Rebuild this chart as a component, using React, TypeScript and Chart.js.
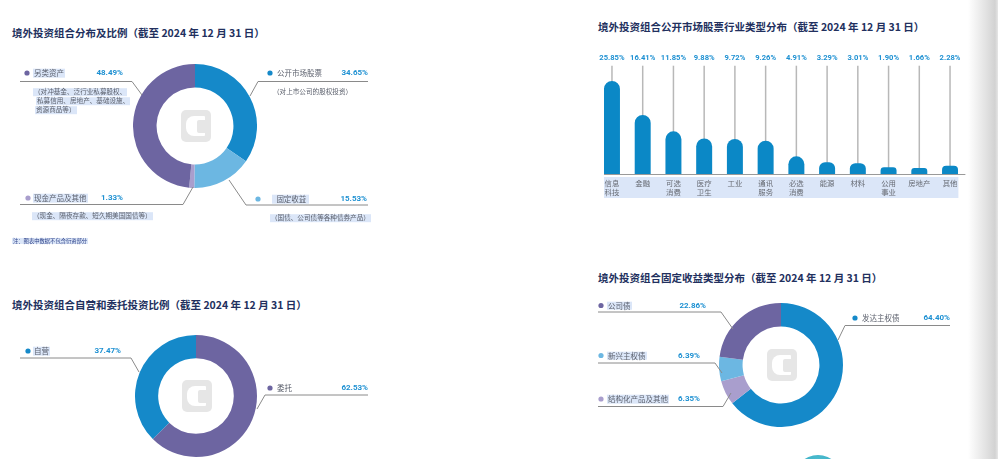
import React, { useEffect, useRef } from "react";
import Chart from "chart.js/auto";

const BLUE = "#1589c9";
const LIGHT_BLUE = "#6cb7e2";
const PURPLE = "#6d65a1";
const LIGHT_PURPLE = "#a99ecd";
const BAR = "#0b88c6";
const PCT = "#1d90d2";
const TITLE = "#22305e";
const LABEL = "#5a5f6b";
const LINE = "#8a8a8a";
const HL = "#dbe6f8";
const CJK = '"Noto Sans CJK SC", sans-serif';

// Panel 1: 境外投资组合分布及比例
const allocLabels = ["公开市场股票", "固定收益", "现金产品及其他", "另类资产"];
const allocValues = [34.65, 15.53, 1.33, 48.49];
const allocColors = [BLUE, LIGHT_BLUE, LIGHT_PURPLE, PURPLE];

// Panel 2: 公开市场股票行业类型分布
const sectorLabels = [["信息", "科技"], ["金融"], ["可选", "消费"], ["医疗", "卫生"], ["工业"], ["通讯", "服务"], ["必选", "消费"], ["能源"], ["材料"], ["公用", "事业"], ["房地产"], ["其他"]];
const sectorValues = [25.85, 16.41, 11.85, 9.88, 9.72, 9.26, 4.91, 3.29, 3.01, 1.9, 1.66, 2.28];

// Panel 3: 自营和委托投资比例
const modeLabels = ["委托", "自营"];
const modeValues = [62.53, 37.47];
const modeColors = [PURPLE, BLUE];

// Panel 4: 固定收益类型分布
const fixedLabels = ["发达主权债", "结构化产品及其他", "新兴主权债", "公司债"];
const fixedValues = [64.4, 6.35, 6.39, 22.86];
const fixedColors = [BLUE, LIGHT_PURPLE, LIGHT_BLUE, PURPLE];

const pct = (v: number) => v.toFixed(2) + "%";

const logoPlugin = {
  id: "logo",
  afterDraw(chart: any) {
    const { ctx, chartArea } = chart;
    const cx = (chartArea.left + chartArea.right) / 2 + 1;
    const cy = (chartArea.top + chartArea.bottom) / 2;
    ctx.save();
    ctx.fillStyle = "#e6e6e6";
    ctx.beginPath();
    ctx.roundRect(cx - 15, cy - 16, 30, 32, 5);
    ctx.fill();
    ctx.fillStyle = "#ffffff";
    ctx.beginPath();
    ctx.roundRect(cx - 10, cy - 10, 19, 20, [8, 1, 1, 8]);
    ctx.fill();
    ctx.fillStyle = "#e6e6e6";
    ctx.beginPath();
    ctx.roundRect(cx + 1, cy - 6, 9, 13, [2, 0, 0, 2]);
    ctx.fill();
    ctx.restore();
  },
};

function Donut({ labels, values, colors, left, top, size }: any) {
  const ref = useRef<HTMLCanvasElement | null>(null);
  useEffect(() => {
    const chart = new Chart(ref.current as HTMLCanvasElement, {
      type: "doughnut",
      data: { labels, datasets: [{ data: values, backgroundColor: colors, borderWidth: 0, hoverOffset: 0 }] },
      options: {
        responsive: false,
        animation: false,
        cutout: "62%",
        events: [],
        layout: { padding: 0 },
        plugins: { legend: { display: false }, tooltip: { enabled: false } },
      },
      plugins: [logoPlugin],
    } as any);
    return () => chart.destroy();
  }, []);
  return <canvas ref={ref} width={size} height={size} style={{ position: "absolute", left, top, width: size, height: size }} />;
}

const barDecor = {
  id: "barDecor",
  beforeDatasetsDraw(chart: any) {
    const { ctx, chartArea } = chart;
    const meta = chart.getDatasetMeta(0);
    const base = chart.scales.y.getPixelForValue(0);
    const first = meta.data[0];
    ctx.save();
    ctx.fillStyle = HL;
    ctx.fillRect(first.x - first.width / 2, base + 3, chartArea.right - 7 - (first.x - first.width / 2), 21);
    ctx.strokeStyle = "#b8b8b8";
    ctx.lineWidth = 1.5;
    meta.data.forEach((b: any) => {
      ctx.beginPath();
      ctx.moveTo(b.x, chartArea.top);
      ctx.lineTo(b.x, b.y + 2);
      ctx.stroke();
    });
    ctx.restore();
  },
  afterDraw(chart: any) {
    const { ctx, chartArea } = chart;
    const meta = chart.getDatasetMeta(0);
    const base = chart.scales.y.getPixelForValue(0);
    const first = meta.data[0];
    ctx.save();
    ctx.strokeStyle = "#9a9a9a";
    ctx.lineWidth = 1;
    ctx.beginPath();
    ctx.moveTo(first.x - first.width / 2, base + 0.5);
    ctx.lineTo(chartArea.right, base + 0.5);
    ctx.stroke();
    ctx.textAlign = "center";
    ctx.textBaseline = "middle";
    ctx.fillStyle = PCT;
    ctx.font = "bold 7.6px Roboto";
    meta.data.forEach((b: any, i: number) => {
      ctx.fillText(pct(sectorValues[i]), b.x, chartArea.top - 8);
    });
    ctx.fillStyle = "#666a72";
    ctx.font = "7.4px " + CJK;
    meta.data.forEach((b: any, i: number) => {
      sectorLabels[i].forEach((s: string, j: number) => {
        ctx.fillText(s, b.x, base + 9 + j * 9);
      });
    });
    ctx.restore();
  },
};

function SectorBars() {
  const ref = useRef<HTMLCanvasElement | null>(null);
  useEffect(() => {
    const chart = new Chart(ref.current as HTMLCanvasElement, {
      type: "bar",
      data: {
        labels: sectorLabels.map((l) => l.join("")),
        datasets: [
          {
            data: sectorValues,
            backgroundColor: BAR,
            borderWidth: 0,
            borderRadius: { topLeft: 8, topRight: 8, bottomLeft: 0, bottomRight: 0 },
            borderSkipped: false,
            barPercentage: 0.52,
            categoryPercentage: 1,
          },
        ],
      },
      options: {
        responsive: false,
        animation: false,
        events: [],
        layout: { padding: { left: 16.6, right: 14.6, top: 25.7, bottom: 36 } },
        scales: {
          x: { display: false },
          y: { display: false, min: 0, max: 30.1 },
        },
        plugins: { legend: { display: false }, tooltip: { enabled: false } },
      },
      plugins: [barDecor],
    } as any);
    return () => chart.destroy();
  }, []);
  return <canvas ref={ref} width={400} height={170} style={{ position: "absolute", left: 580, top: 40, width: 400, height: 170 }} />;
}

function Txt({ x, y, children, size = 7.5, color = LABEL, weight = 400, bg, right, family = CJK }: any) {
  return (
    <div
      style={{
        position: "absolute",
        left: x,
        top: y,
        transform: right ? "translate(-100%, -50%)" : "translate(0, -50%)",
        fontSize: size,
        lineHeight: 1.15,
        color,
        fontWeight: weight,
        fontFamily: family,
        whiteSpace: "nowrap",
        background: bg || "transparent",
        padding: bg ? "0 1px" : 0,
      }}
    >
      {children}
    </div>
  );
}

const Pct = ({ x, y, v }: any) => (
  <Txt x={x} y={y} right size={8} weight={700} color={PCT} family="Roboto, sans-serif">
    {pct(v)}
  </Txt>
);

const leaders = [
  "20,81.5 132,81.5 142,95",
  "368,81.5 258,81.5 250,96",
  "20,204.5 183,204.5 193,187",
  "368,205 246,205 229,180",
  "20,358 131,358 139,372",
  "368,395 265,395 257,409",
  "598,312 721,312 733,329",
  "598,363 715,363 722,373",
  "598,406.5 723,406.5 731,393",
  "950,325.5 845,325.5 838,340",
];

const dots: [number, number, string][] = [
  [27, 73, allocColors[3]],
  [270, 73, allocColors[0]],
  [28, 198, allocColors[2]],
  [258, 199, allocColors[1]],
  [28, 351, modeColors[1]],
  [270, 388, modeColors[0]],
  [601, 305.5, fixedColors[3]],
  [601, 355.5, fixedColors[2]],
  [601, 399, fixedColors[1]],
  [855, 318, fixedColors[0]],
];

export default function App() {
  const title = (x: number, y: number, s: string) => (
    <Txt x={x} y={y} size={10.5} weight={700} color={TITLE}>
      {s}
    </Txt>
  );
  const date = "（截至 2024 年 12 月 31 日）";
  return (
    <div style={{ position: "absolute", left: 0, top: 0, width: 998, height: 459, background: "#fff", overflow: "hidden" }}>
      {title(12, 33, "境外投资组合分布及比例" + date)}
      {title(598, 27, "境外投资组合公开市场股票行业类型分布" + date)}
      {title(12, 305, "境外投资组合自营和委托投资比例" + date)}
      {title(598, 278, "境外投资组合固定收益类型分布" + date)}

      <Donut labels={allocLabels} values={allocValues} colors={allocColors} left={133} top={64} size={124} />
      <SectorBars />
      <Donut labels={modeLabels} values={modeValues} colors={modeColors} left={135} top={335} size={122} />
      <Donut labels={fixedLabels} values={fixedValues} colors={fixedColors} left={718.5} top={303} size={124} />

      <svg width={998} height={459} style={{ position: "absolute", left: 0, top: 0 }}>
        {leaders.map((p, i) => (
          <polyline key={i} points={p} fill="none" stroke={LINE} strokeWidth={1} />
        ))}
        {dots.map(([x, y, c], i) => (
          <circle key={i} cx={x} cy={y} r={2.6} fill={c} />
        ))}
      </svg>

      {/* Panel 1 labels */}
      <Txt x={33} y={73} bg={HL}>{allocLabels[3]}</Txt>
      <Pct x={123} y={73} v={allocValues[3]} />
      <Txt x={33} y={92} size={6.6} bg={HL}>（对冲基金、泛行业私募股权、</Txt>
      <Txt x={36} y={101} size={6.6} bg={HL}>私募信用、房地产、基础设施、</Txt>
      <Txt x={35} y={110} size={6.6} bg={HL}>资源商品等）</Txt>
      <Txt x={277} y={73}>{allocLabels[0]}</Txt>
      <Pct x={368} y={73} v={allocValues[0]} />
      <Txt x={273} y={92} size={6.6}>（对上市公司的股权投资）</Txt>
      <Txt x={33} y={198} bg={HL}>{allocLabels[2]}</Txt>
      <Pct x={123} y={198} v={allocValues[2]} />
      <Txt x={32} y={216} size={6.6} bg={HL}>（现金、隔夜存款、短久期美国国债等）</Txt>
      <Txt x={272} y={199} bg={HL}>&nbsp;&nbsp;{allocLabels[1]}&nbsp;</Txt>
      <Pct x={367} y={199} v={allocValues[1]} />
      <Txt x={270} y={218} size={6.6} bg={HL}>（国债、公司债等各种债券产品）</Txt>
      <Txt x={12} y={241} size={5.3} color="#2b3f86" bg={HL}>注：图表中数据不包含衍资部分</Txt>

      {/* Panel 3 labels */}
      <Txt x={33} y={351} bg={HL}>{modeLabels[1]}</Txt>
      <Pct x={121} y={351} v={modeValues[1]} />
      <Txt x={277} y={388}>{modeLabels[0]}</Txt>
      <Pct x={368} y={388} v={modeValues[0]} />

      {/* Panel 4 labels */}
      <Txt x={607} y={305.5} bg={HL}>{fixedLabels[3]}</Txt>
      <Pct x={706} y={305.5} v={fixedValues[3]} />
      <Txt x={607} y={355.5} bg={HL}>{fixedLabels[2]}</Txt>
      <Pct x={700} y={355.5} v={fixedValues[2]} />
      <Txt x={607} y={399} bg={HL}>{fixedLabels[1]}</Txt>
      <Pct x={700} y={399} v={fixedValues[1]} />
      <Txt x={862} y={318}>{fixedLabels[0]}</Txt>
      <Pct x={950} y={318} v={fixedValues[0]} />

      {/* page edge and decoration */}
      <div
        style={{
          position: "absolute",
          left: 968,
          top: 0,
          width: 30,
          height: 459,
          background: "linear-gradient(to right, rgba(255,255,255,0) 0%, #f3f3f3 25%, #e2e2e2 60%, #d2d2d2 90%, #e6e6e6 100%)",
        }}
      />
      <div
        style={{
          position: "absolute",
          left: 793,
          top: 455,
          width: 50,
          height: 50,
          borderRadius: "50%",
          background: "radial-gradient(circle at 50% 15%, #4fbdd0, #1596b0)",
        }}
      />
    </div>
  );
}
